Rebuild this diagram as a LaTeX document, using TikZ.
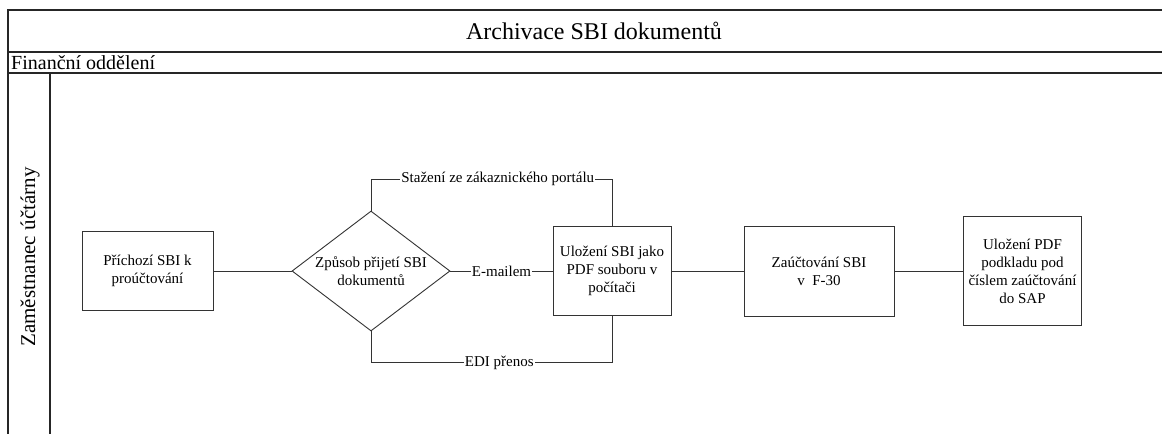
\documentclass[tikz,border=0pt]{standalone}
\usepackage{fontspec}
\setmainfont{Liberation Serif}
\usetikzlibrary{shapes.geometric}
\begin{document}
\begin{tikzpicture}[x=1pt,y=-1pt,
  frameline/.style={line width=1.1pt, draw=black!85},
  link/.style={line width=0.9pt, draw=black!80},
  stepbox/.style={draw=black!80, line width=0.9pt, rectangle, inner sep=0pt,
    align=center, font=\fontsize{15}{18}\selectfont},
  decision/.style={draw=black!80, line width=0.9pt, diamond, inner sep=0pt,
    minimum width=158pt, minimum height=120pt},
  txt/.style={align=center, inner sep=0pt, font=\fontsize{15}{18}\selectfont},
  lbl/.style={fill=white, inner sep=1pt, font=\fontsize{15}{18}\selectfont}]
\useasboundingbox (0,0) rectangle (1162,434);
\fill[white] (0,0) rectangle (1162,434);

% pool frame with title band, pool header and lane column
\draw[frameline] (1162,10) -- (8,10) -- (8,434);
\draw[frameline] (8,52) -- (1162,52);
\draw[frameline] (8,73) -- (1162,73);
\draw[frameline] (50,73) -- (50,434);
\node (title) at (594,31) {\fontsize{24}{28}\selectfont Archivace SBI dokumentů};
\node[anchor=west, inner sep=0pt] (pool) at (11,63) {\fontsize{20}{24}\selectfont Finanční oddělení};
\node[rotate=90] (lane) at (30,257) {\fontsize{21}{25}\selectfont Zaměstnanec účtárny};

% process steps
\node[stepbox, minimum width=131pt, minimum height=79pt] (b1) at (147.5,271)
  {Příchozí SBI k\\proúčtování};
\node[decision] (dia) at (371,271) {};
\node[txt] (diatext) at (dia.center) {Způsob přijetí SBI\\dokumentů};
\node[stepbox, minimum width=118pt, minimum height=89pt] (b2) at (612,271)
  {Uložení SBI jako\\PDF souboru v\\počítači};
\node[stepbox, minimum width=150pt, minimum height=90pt] (b3) at (819,271)
  {Zaúčtování SBI\\v\ \ F-30};
\node[stepbox, minimum width=118pt, minimum height=109pt] (b4) at (1022.5,271)
  {Uložení PDF\\podkladu pod\\číslem zaúčtování\\do SAP};

% routing levels for the branch connectors
\coordinate (ytop) at (0,179.3);
\coordinate (ybot) at (0,362.7);

% connectors
\draw[link] (b1.east) -- (dia.west);
\draw[link] (dia.north) |- node[lbl, pos=0.763] {Stažení ze zákaznického portálu}
  (b2.north |- ytop) -- (b2.north);
\draw[link] (dia.east) -- node[lbl, pos=0.5] {E-mailem} (b2.west);
\draw[link] (dia.south) |- node[lbl, pos=0.766] {EDI přenos}
  (b2.south |- ybot) -- (b2.south);
\draw[link] (b2.east) -- (b3.west);
\draw[link] (b3.east) -- (b4.west);
\end{tikzpicture}
\end{document}
